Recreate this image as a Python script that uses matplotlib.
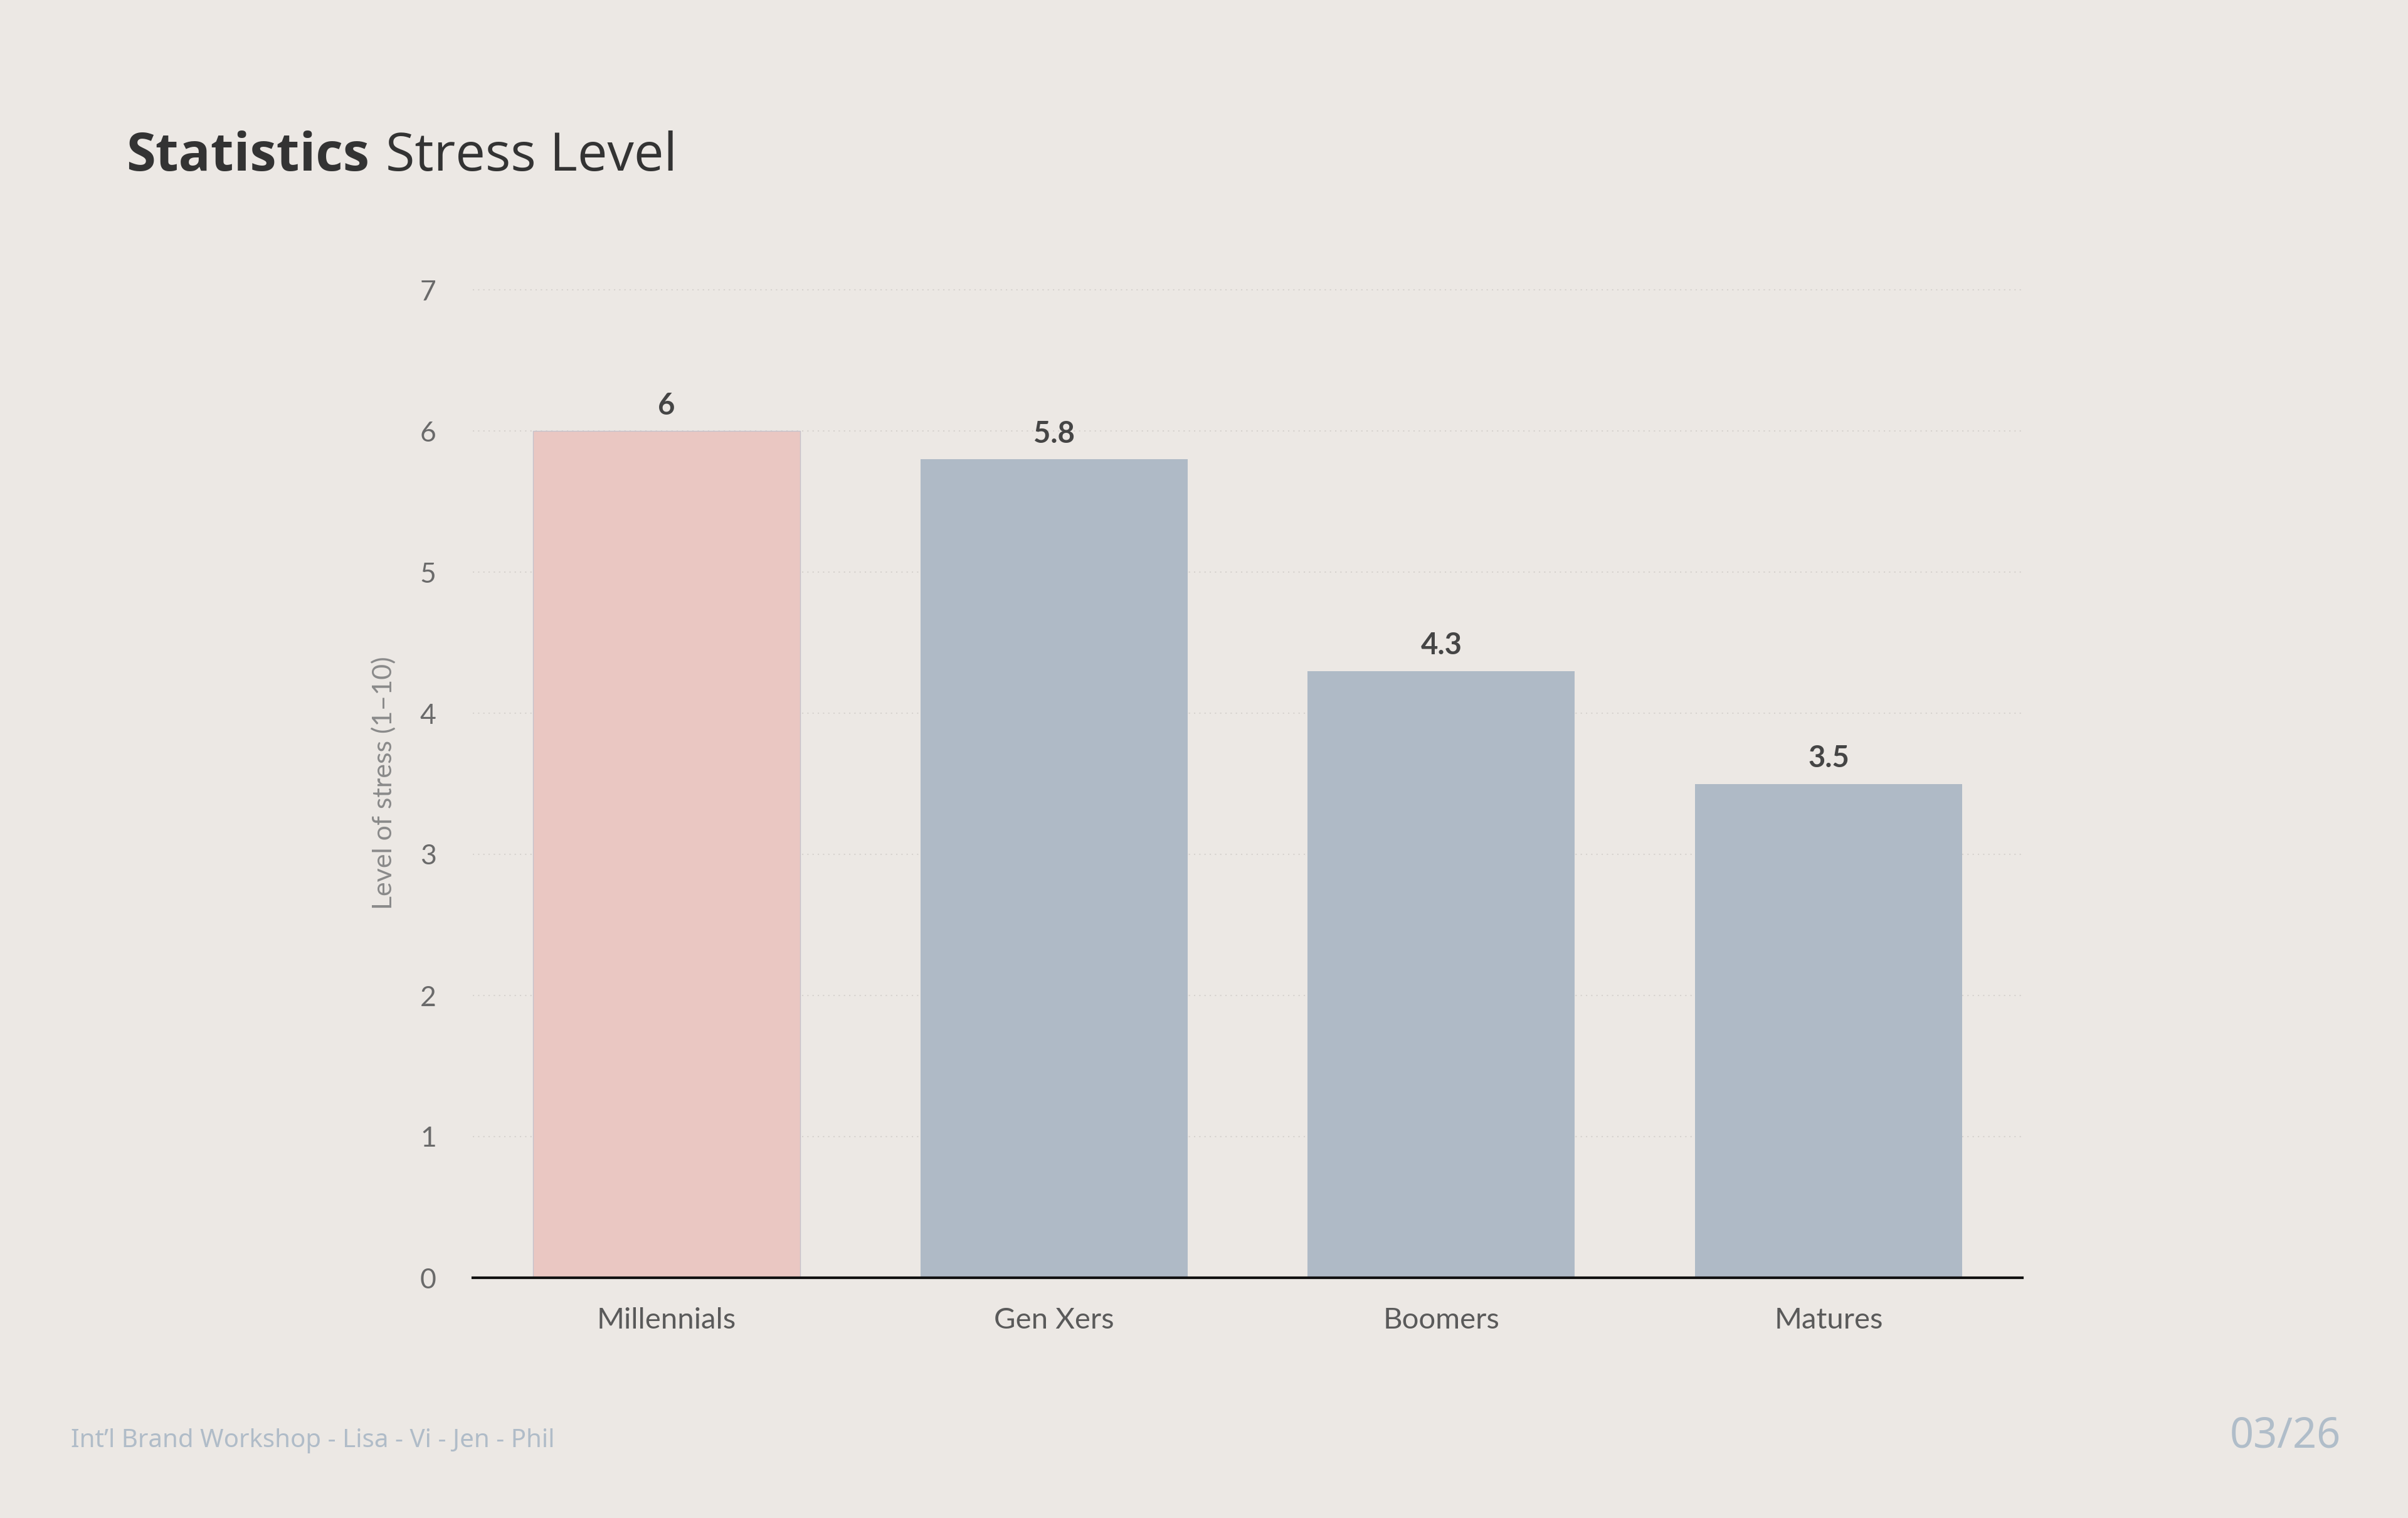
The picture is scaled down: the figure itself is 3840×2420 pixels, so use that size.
import matplotlib
matplotlib.use("Agg")
import matplotlib.pyplot as plt

categories = ["Millennials", "Gen Xers", "Boomers", "Matures"]
values = [6, 5.8, 4.3, 3.5]
value_labels = ["6", "5.8", "4.3", "3.5"]
yticks = [0, 1, 2, 3, 4, 5, 6, 7]

BG = "#ECE8E4"
PINK = "#EAC7C2"
BLUE = "#AFBAC6"
bar_colors = [PINK, BLUE, BLUE, BLUE]

plt.rcParams['font.family'] = ['Lato', 'DejaVu Sans']

W, H = 3840, 2420
fig = plt.figure(figsize=(W / 100, H / 100), dpi=100, facecolor=BG)

left, right = 754 / W, 3225 / W
bottom = 1 - 2037 / H
ytop = 7.02
top_px = 2037 - ytop * 225
top = 1 - top_px / H
ax = fig.add_axes([left, bottom, right - left, top - bottom], facecolor=BG)

x = list(range(len(categories)))
bars = ax.bar(x, values, width=0.69, color=bar_colors, zorder=3)
bars[0].set_edgecolor("#C5C2CC")
bars[0].set_linewidth(1.0)

ax.set_xlim(-0.5, 3.5)
ax.set_ylim(0, ytop)
ax.set_yticks(yticks)
ax.set_yticklabels([str(t) for t in yticks])
ax.set_xticks(x)
ax.set_xticklabels(categories)

for t in yticks[1:]:
    ax.axhline(t, color="#D6D2CE", linestyle=(0, (1, 3)), linewidth=1.5, zorder=1)

for s in ["top", "right", "left"]:
    ax.spines[s].set_visible(False)
ax.spines["bottom"].set_color("#111111")
ax.spines["bottom"].set_linewidth(3)
ax.spines["bottom"].set_zorder(4)

ax.tick_params(axis="y", length=0, pad=42, labelsize=32, labelcolor="#6A6A6A")
ax.tick_params(axis="x", length=0, pad=34, labelsize=34, labelcolor="#5A5A5A")

for xi, v, lab in zip(x, values, value_labels):
    ax.annotate(lab, xy=(xi, v), xytext=(0, 19), textcoords="offset points",
                ha="center", va="baseline", fontsize=34, fontweight="bold",
                color="#454545", zorder=5)

fig.text(612 / W, 1 - 1248 / H, "Level of stress (1–10)", rotation=90,
         ha="center", va="center", fontsize=31, color="#8A8A8A")

# Title
TF = ['Open Sans', 'DejaVu Sans']
t1 = fig.text(201 / W, 1 - 272 / H, "Statistics", ha="left", va="baseline",
              fontsize=61, fontweight="bold", color="#333333", family=TF)
fig.canvas.draw()
bb = t1.get_window_extent()
fig.text((bb.x1 + 26) / W, 1 - 272 / H, "Stress Level", ha="left", va="baseline",
         fontsize=61, fontweight="normal", color="#333333", family=TF)

# Footer
FF = ['Noto Sans', 'DejaVu Sans']
fig.text(113 / W, 1 - 2307 / H, "Int\u2019l Brand Workshop - Lisa - Vi - Jen - Phil",
         ha="left", va="baseline", fontsize=29, color="#B0BCC8", family=FF)
fig.text(3733 / W, 1 - 2308 / H, "03/26", ha="right", va="baseline",
         fontsize=48, color="#B0BDC9", family=FF)

fig.savefig("out.png", dpi=100, facecolor=BG)
